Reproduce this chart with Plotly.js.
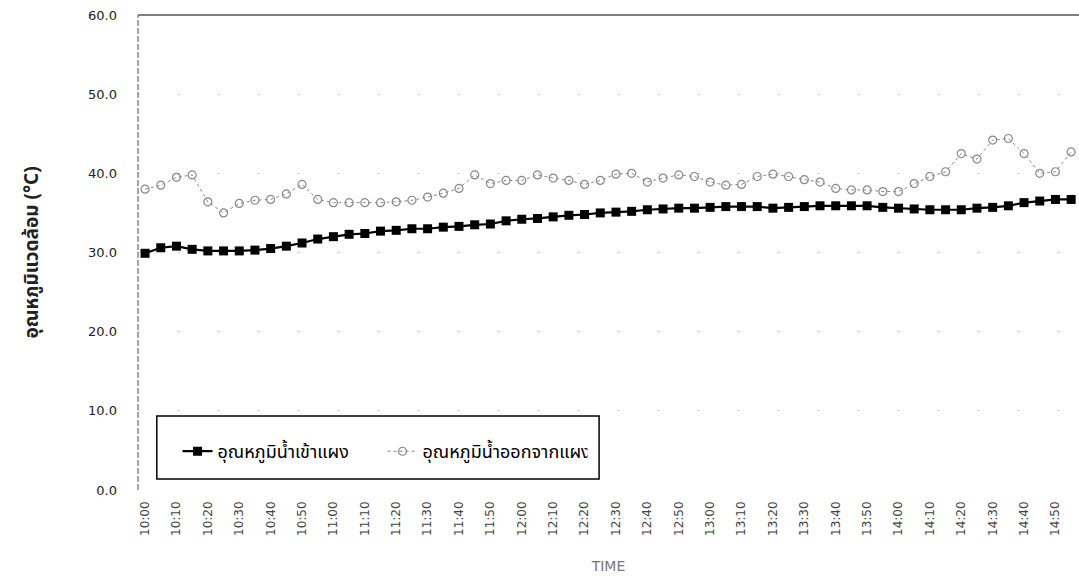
<!DOCTYPE html>
<html>
<head>
<meta charset="utf-8">
<script src="https://cdn.plot.ly/plotly-3.0.1.min.js"></script>
<style>html,body{margin:0;padding:0;background:#fff;}#chart{width:1079px;height:587px;}</style>
</head>
<body>
<div id="chart"></div>
<script>
const times = ["10:00","10:05","10:10","10:15","10:20","10:25","10:30","10:35","10:40","10:45",
"10:50","10:55","11:00","11:05","11:10","11:15","11:20","11:25","11:30","11:35",
"11:40","11:45","11:50","11:55","12:00","12:05","12:10","12:15","12:20","12:25",
"12:30","12:35","12:40","12:45","12:50","12:55","13:00","13:05","13:10","13:15",
"13:20","13:25","13:30","13:35","13:40","13:45","13:50","13:55","14:00","14:05",
"14:10","14:15","14:20","14:25","14:30","14:35","14:40","14:45","14:50","14:55"];

const inletTemp = [29.9,30.6,30.8,30.4,30.2,30.2,30.2,30.3,30.5,30.8,
31.2,31.7,32.0,32.3,32.4,32.7,32.8,33.0,33.0,33.2,
33.3,33.5,33.6,34.0,34.2,34.3,34.5,34.7,34.8,35.0,
35.1,35.2,35.4,35.5,35.6,35.6,35.7,35.8,35.8,35.8,
35.6,35.7,35.8,35.9,35.9,35.9,35.9,35.7,35.6,35.5,
35.4,35.4,35.4,35.6,35.7,35.9,36.3,36.5,36.7,36.7];

const outletTemp = [38.0,38.5,39.5,39.8,36.4,35.0,36.2,36.6,36.7,37.4,
38.6,36.7,36.3,36.3,36.3,36.3,36.4,36.6,37.0,37.5,
38.1,39.8,38.7,39.1,39.1,39.8,39.4,39.1,38.6,39.1,
39.9,40.0,38.9,39.4,39.8,39.6,38.9,38.5,38.6,39.6,
39.9,39.6,39.2,38.9,38.1,37.9,37.9,37.7,37.7,38.7,
39.6,40.2,42.5,41.8,44.2,44.4,42.5,40.0,40.2,42.7];

const tickLabels = times.filter((t, i) => i % 2 === 0);
const yTicks = [0, 10, 20, 30, 40, 50, 60];

const seriesNames = ["อุณหภูมิน้ำเข้าแผง", "อุณหภูมิน้ำออกจากแผง"];
const yTitle = "อุณหภูมิแวดล้อม (°C)";
const xTitle = "TIME";

const thaiFont = "'Noto Sans Thai', 'Noto Sans', 'DejaVu Sans', sans-serif";

const traces = [
  {
    x: times, y: inletTemp, name: seriesNames[0], type: 'scatter', mode: 'lines+markers',
    line: {color: '#000', width: 2.2},
    marker: {symbol: 'square', size: 9, color: '#000'}
  },
  {
    x: times, y: outletTemp, name: seriesNames[1], type: 'scatter', mode: 'lines+markers',
    line: {color: '#888', width: 1, dash: 'dot'},
    marker: {symbol: 'circle-open', size: 8, color: '#888', line: {width: 1.2, color: '#888'}}
  }
];

const layout = {
  width: 1079, height: 587,
  margin: {l: 138, r: 0, t: 15, b: 97},
  paper_bgcolor: '#fff', plot_bgcolor: '#fff',
  showlegend: true,
  legend: {
    orientation: 'h', x: 0.042, y: 0.081, xanchor: 'left', yanchor: 'middle',
    bgcolor: 'rgba(0,0,0,0)', borderwidth: 0,
    font: {family: thaiFont, size: 18, color: '#000'},
    entrywidth: 160, entrywidthmode: 'pixels', itemwidth: 30
  },
  xaxis: {
    type: 'category',
    range: [-0.45, 59.5],
    tickmode: 'array', tickvals: tickLabels, ticktext: tickLabels,
    tickangle: -90, ticklabelstandoff: 8,
    tickfont: {family: "'DejaVu Sans', sans-serif", size: 12, color: '#444'},
    showgrid: false, zeroline: false, showline: false, ticks: '',
    title: {text: xTitle, font: {family: "'DejaVu Sans', sans-serif", size: 14, color: '#777'}, standoff: 26}
  },
  yaxis: {
    range: [0, 60], tickmode: 'array', tickvals: yTicks,
    ticktext: yTicks.map(v => v.toFixed(1)),
    tickfont: {family: "'DejaVu Sans', sans-serif", size: 13, color: '#222'},
    ticks: '', ticklen: 0, ticklabelstandoff: 20,
    showgrid: true, gridcolor: '#c8c8c8', gridwidth: 1, griddash: '2px,38px',
    zeroline: false, showline: false,
    title: {text: yTitle, font: {family: thaiFont, size: 19, color: '#222', weight: 'bold'}, standoff: 44}
  },
  shapes: [
    {type: 'line', xref: 'paper', yref: 'paper', x0: 0, x1: 1, y0: 1, y1: 1, line: {color: '#000', width: 1.2}},
    {type: 'line', xref: 'paper', yref: 'paper', x0: 0, x1: 0, y0: 0, y1: 1, line: {color: '#888', width: 1.5, dash: '6px,2px'}},
    {type: 'rect', xref: 'paper', yref: 'paper', x0: 0.020, x1: 0.490, y0: 0.023, y1: 0.156,
     line: {color: '#000', width: 1.5}, fillcolor: '#fff', layer: 'below'}
  ]
};

Plotly.newPlot('chart', traces, layout, {displayModeBar: false, staticPlot: true});
</script>
</body>
</html>
